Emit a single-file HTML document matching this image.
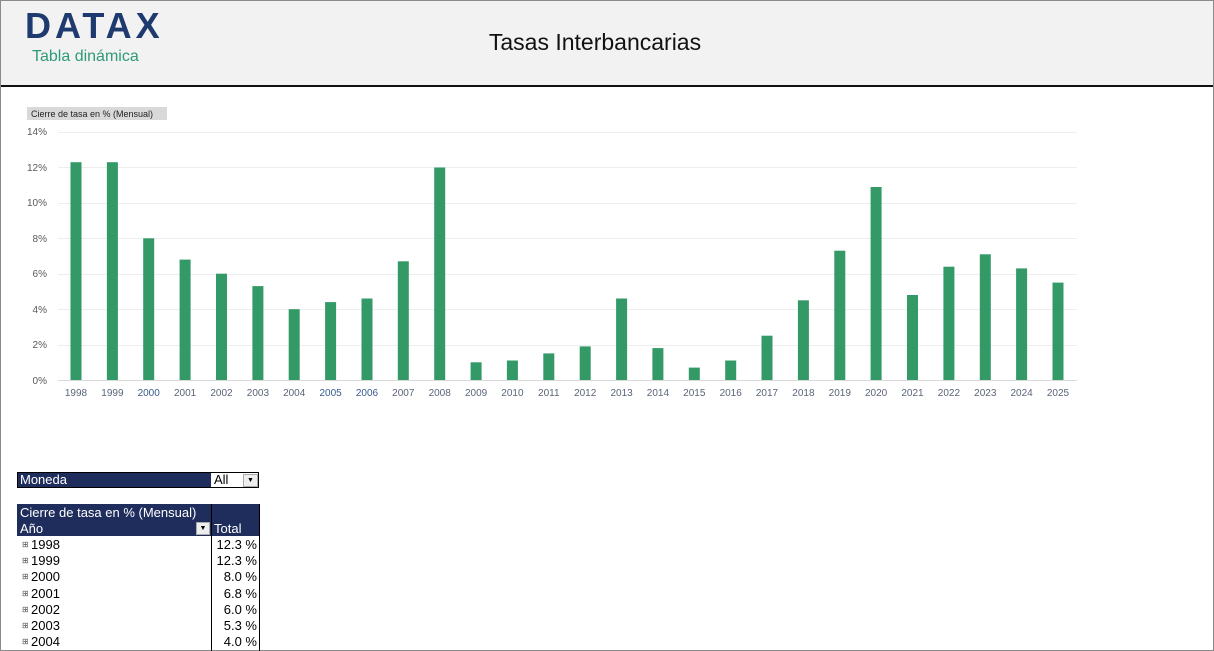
<!DOCTYPE html>
<html><head><meta charset="utf-8"><style>
body{margin:0;width:1214px;height:651px;overflow:hidden;background:#fff;font-family:"Liberation Sans",sans-serif;position:relative}
.frame{position:absolute;left:0;top:0;width:1212px;height:649px;border:1px solid #8a8a8a}
.hdr{position:absolute;left:1px;top:1px;width:1212px;height:84px;background:#f2f2f2;border-bottom:2px solid #111}
.logo{position:absolute;left:24px;top:4px;font-size:36px;font-weight:bold;color:#1f3a6e;letter-spacing:4px}
.sub{position:absolute;left:31px;top:47px;font-size:16px;color:#2e9a7a}
.title{position:absolute;left:0;width:1188px;top:28px;text-align:center;font-size:23px;color:#111}
.tbl{position:absolute;font-size:13px;color:#000}
.r{height:16.2px;line-height:16.2px;white-space:nowrap}
.r i{font-style:normal;font-size:8px;color:#555;display:inline-block;width:9px;vertical-align:top}
</style></head><body>
<div class="frame"></div>
<div class="hdr"><div class="logo">DATAX</div><div class="sub">Tabla dinámica</div><div class="title">Tasas Interbancarias</div></div>
<svg style="position:absolute;left:0;top:0" width="1214" height="420" font-family="Liberation Sans, sans-serif">
<rect x="27" y="107" width="140" height="13" fill="#d9d9d9"/>
<text x="31" y="117" font-size="9" fill="#222">Cierre de tasa en % (Mensual)</text>
<g stroke="#eeeeee" stroke-width="1">
<line x1="58" x2="1077" y1="132.5" y2="132.5"/><line x1="58" x2="1077" y1="167.5" y2="167.5"/><line x1="58" x2="1077" y1="203.5" y2="203.5"/><line x1="58" x2="1077" y1="238.5" y2="238.5"/><line x1="58" x2="1077" y1="274.5" y2="274.5"/><line x1="58" x2="1077" y1="309.5" y2="309.5"/><line x1="58" x2="1077" y1="345.5" y2="345.5"/>
</g>
<line x1="58" x2="1077" y1="380.5" y2="380.5" stroke="#d9d9d9"/>
<g font-size="10" fill="#595959" text-anchor="end">
<text x="47" y="135">14%</text><text x="47" y="171">12%</text><text x="47" y="206">10%</text><text x="47" y="242">8%</text><text x="47" y="277">6%</text><text x="47" y="313">4%</text><text x="47" y="348">2%</text><text x="47" y="384">0%</text>
</g>
<g fill="#339966">
<rect x="70.5" y="162.2" width="11" height="217.8"/><rect x="106.9" y="162.2" width="11" height="217.8"/><rect x="143.2" y="238.3" width="11" height="141.7"/><rect x="179.6" y="259.6" width="11" height="120.4"/><rect x="216" y="273.7" width="11" height="106.3"/><rect x="252.4" y="286.1" width="11" height="93.9"/><rect x="288.7" y="309.2" width="11" height="70.8"/><rect x="325.1" y="302.1" width="11" height="77.9"/><rect x="361.5" y="298.5" width="11" height="81.5"/><rect x="397.8" y="261.3" width="11" height="118.7"/><rect x="434.2" y="167.5" width="11" height="212.5"/><rect x="470.6" y="362.3" width="11" height="17.7"/><rect x="506.9" y="360.5" width="11" height="19.5"/><rect x="543.3" y="353.4" width="11" height="26.6"/><rect x="579.7" y="346.4" width="11" height="33.6"/><rect x="616.1" y="298.5" width="11" height="81.5"/><rect x="652.4" y="348.1" width="11" height="31.9"/><rect x="688.8" y="367.6" width="11" height="12.4"/><rect x="725.2" y="360.5" width="11" height="19.5"/><rect x="761.5" y="335.7" width="11" height="44.3"/><rect x="797.9" y="300.3" width="11" height="79.7"/><rect x="834.3" y="250.7" width="11" height="129.3"/><rect x="870.6" y="187" width="11" height="193"/><rect x="907" y="295" width="11" height="85"/><rect x="943.4" y="266.7" width="11" height="113.3"/><rect x="979.8" y="254.3" width="11" height="125.7"/><rect x="1016.1" y="268.4" width="11" height="111.6"/><rect x="1052.5" y="282.6" width="11" height="97.4"/>
</g>
<g font-size="10" fill="#5a6478" text-anchor="middle">
<text x="76" y="396">1998</text><text x="112.4" y="396">1999</text><text x="148.7" y="396" fill="#3a5a8c">2000</text><text x="185.1" y="396">2001</text><text x="221.5" y="396">2002</text><text x="257.9" y="396">2003</text><text x="294.2" y="396">2004</text><text x="330.6" y="396" fill="#3a5a8c">2005</text><text x="367" y="396" fill="#3a5a8c">2006</text><text x="403.3" y="396">2007</text><text x="439.7" y="396">2008</text><text x="476.1" y="396">2009</text><text x="512.4" y="396">2010</text><text x="548.8" y="396">2011</text><text x="585.2" y="396">2012</text><text x="621.6" y="396">2013</text><text x="657.9" y="396">2014</text><text x="694.3" y="396">2015</text><text x="730.7" y="396">2016</text><text x="767" y="396">2017</text><text x="803.4" y="396">2018</text><text x="839.8" y="396">2019</text><text x="876.1" y="396">2020</text><text x="912.5" y="396">2021</text><text x="948.9" y="396">2022</text><text x="985.3" y="396">2023</text><text x="1021.6" y="396">2024</text><text x="1058" y="396">2025</text>
</g>
</svg>
<div class="tbl" style="left:17px;top:472px;width:242px;height:16px;background:#1f2d5c;border:1px solid #000;box-sizing:border-box"></div>
<div class="tbl" style="left:20px;top:472px;color:#fff">Moneda</div>
<div class="tbl" style="left:211px;top:473px;width:47px;height:14px;background:#fff"></div>
<div class="tbl" style="left:214px;top:472px">All</div>
<div class="tbl" style="left:243px;top:474px;width:13px;height:11px;border:1px solid #aaa;background:#eee;font-size:7px;text-align:center;line-height:11px">▼</div>
<div class="tbl" style="left:17px;top:504px;width:243px;height:32px;background:#1f2d5c"></div>
<div class="tbl" style="left:211px;top:504px;width:1px;height:147px;background:#000"></div>
<div class="tbl" style="left:259px;top:504px;width:1px;height:147px;background:#000"></div>
<div class="tbl" style="left:20px;top:505px;color:#fff">Cierre de tasa en % (Mensual)</div>
<div class="tbl" style="left:20px;top:521px;color:#fff">Año</div>
<div class="tbl" style="left:196px;top:522px;width:12px;height:11px;background:#eee;border:1px solid #aaa;font-size:7px;text-align:center;line-height:11px">▼</div>
<div class="tbl" style="left:214px;top:521px;color:#fff">Total</div>
<div class="tbl" style="left:22px;top:537px">
<div class="r"><i>⊞</i>1998</div><div class="r"><i>⊞</i>1999</div><div class="r"><i>⊞</i>2000</div><div class="r"><i>⊞</i>2001</div><div class="r"><i>⊞</i>2002</div><div class="r"><i>⊞</i>2003</div><div class="r"><i>⊞</i>2004</div></div>
<div class="tbl" style="left:212px;width:45px;text-align:right;top:537px">
<div class="r">12.3 %</div><div class="r">12.3 %</div><div class="r">8.0 %</div><div class="r">6.8 %</div><div class="r">6.0 %</div><div class="r">5.3 %</div><div class="r">4.0 %</div></div>
</body></html>
